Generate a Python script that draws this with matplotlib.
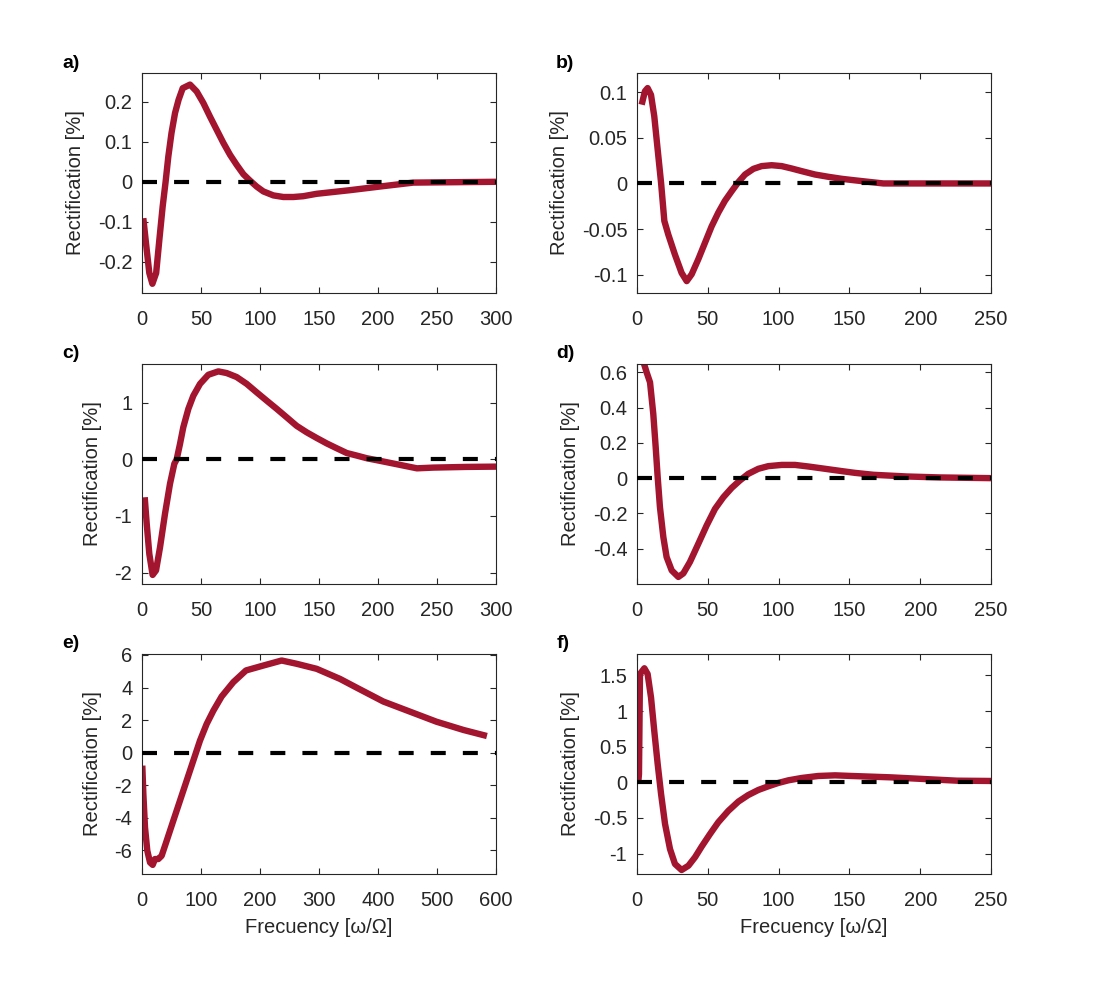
import matplotlib.pyplot as plt

plt.rcParams["font.family"] = ["Liberation Sans", "DejaVu Sans"]

# panel a
a_x = [1.1, 4, 6.2, 8.8, 12, 14.7, 17.5, 20, 22.3, 25, 28, 31, 34.5, 40.7, 46.3,
       52, 57.6, 63.3, 69, 74.6, 80.2, 85.9, 91.5, 97.2, 102.8, 111.3, 119.8,
       128.3, 136.7, 148, 176, 204, 230, 300]
a_y = [-0.091, -0.17, -0.228, -0.255, -0.228, -0.145, -0.062, 0, 0.063, 0.122,
       0.172, 0.205, 0.234, 0.243, 0.226, 0.197, 0.163, 0.13, 0.097, 0.0675,
       0.0425, 0.019, 0.003, -0.012, -0.024, -0.034, -0.038, -0.038, -0.036,
       -0.03, -0.021, -0.011, -0.002, 0]

# panel b
b_x = [3.3, 5.6, 7.5, 9.9, 12.2, 14.6, 17, 19.3, 22.1, 26.8, 31.5, 35.1, 38.6,
       43.3, 48, 52.7, 57.4, 62.1, 66.9, 71.6, 76.3, 82.2, 88, 95.1, 102.2,
       109.2, 116.3, 125.7, 135.1, 144.5, 152.8, 174, 250]
b_y = [0.0863, 0.101, 0.1045, 0.097, 0.0736, 0.037, 0.0007, -0.041, -0.056,
       -0.078, -0.098, -0.107, -0.0995, -0.083, -0.065, -0.047, -0.032, -0.019,
       -0.0084, 0.0015, 0.0098, 0.016, 0.019, 0.02, 0.019, 0.0164, 0.0135,
       0.0098, 0.0073, 0.0051, 0.0036, 0, 0]

# panel c
c_x = [2.3, 4, 6.2, 9, 11.9, 15.3, 19.5, 23.7, 27.4, 29.4, 32.2, 35, 39.3, 43.5,
       49.2, 56.2, 64.7, 71.8, 80.2, 88.7, 97.2, 105.6, 114.1, 122.6, 131, 139.5,
       148, 156.5, 165, 173.5, 182, 190.5, 204.6, 218.8, 233, 247, 275, 300]
c_y = [-0.67, -1.14, -1.67, -2.04, -1.96, -1.55, -0.96, -0.435, -0.08, 0, 0.27,
       0.565, 0.89, 1.12, 1.33, 1.49, 1.55, 1.52, 1.45, 1.33, 1.18, 1.035, 0.89,
       0.74, 0.59, 0.476, 0.376, 0.28, 0.194, 0.11, 0.065, 0.018, -0.04, -0.1,
       -0.16, -0.147, -0.135, -0.13]

# panel d
d_x = [4.5, 6.8, 9.2, 11.5, 13.2, 14.6, 16.2, 18.6, 20.9, 24.5, 29.2, 32.7, 37.4,
       43.3, 49.2, 55.1, 61, 66.9, 72.7, 78.6, 85.7, 92.7, 102.2, 111.6, 121,
       132.8, 144.5, 153.9, 167, 190.7, 214, 250]
d_y = [0.66, 0.6, 0.543, 0.364, 0.175, 0.006, -0.164, -0.334, -0.447, -0.523,
       -0.56, -0.54, -0.475, -0.372, -0.268, -0.174, -0.108, -0.055, -0.013,
       0.0245, 0.053, 0.068, 0.075, 0.075, 0.066, 0.053, 0.04, 0.03, 0.019,
       0.0094, 0.004, 0]

# panel e
e_x = [0.5, 2.3, 5.1, 9, 13.6, 18.1, 22, 27.7, 33.3, 41.8, 53.1, 64.4, 75.7, 87,
       98.3, 109.6, 121, 135, 154.8, 176.3, 205.6, 236.7, 262, 296, 335.6, 366,
       409, 454, 499, 545, 584.6]
e_y = [-0.8, -2.54, -4.6, -6.03, -6.75, -6.9, -6.54, -6.54, -6.34, -5.42, -4.18,
       -2.95, -1.72, -0.49, 0.74, 1.76, 2.58, 3.45, 4.33, 5.05, 5.35, 5.66, 5.46,
       5.15, 4.53, 3.95, 3.14, 2.52, 1.9, 1.39, 1.02]

# panel f
f_x = [0.9, 1.4, 2.1, 5.2, 7.5, 9.9, 12.2, 14.6, 17, 19.8, 23.3, 26.8, 31.5, 36.3,
       41, 45.7, 51.6, 57.4, 64.5, 71.6, 78.6, 85.7, 92.7, 99.8, 106.9, 116.3,
       128, 139.9, 151.6, 179, 202, 226, 250]
f_y = [0, 0.117, 1.52, 1.6, 1.52, 1.19, 0.72, 0.257, -0.164, -0.584, -0.935,
       -1.145, -1.23, -1.17, -1.05, -0.9, -0.724, -0.56, -0.4, -0.27, -0.178,
       -0.107, -0.056, -0.009, 0.028, 0.061, 0.089, 0.098, 0.089, 0.07, 0.047,
       0.023, 0.019]

panel_labels = ["a)", "b)", "c)", "d)", "e)", "f)"]
xlims = [(0, 300), (0, 250), (0, 300), (0, 250), (0, 600), (0, 250)]
ylims = [(-0.278, 0.272), (-0.12, 0.121), (-2.2, 1.68), (-0.6, 0.647),
         (-7.46, 6.06), (-1.286, 1.8)]
yticks = [[-0.2, -0.1, 0, 0.1, 0.2], [-0.1, -0.05, 0, 0.05, 0.1],
          [-2, -1, 0, 1], [-0.4, -0.2, 0, 0.2, 0.4, 0.6],
          [-6, -4, -2, 0, 2, 4, 6], [-1, -0.5, 0, 0.5, 1, 1.5]]
xticks = [list(range(0, 301, 50)), list(range(0, 251, 50)),
          list(range(0, 301, 50)), list(range(0, 251, 50)),
          list(range(0, 601, 100)), list(range(0, 251, 50))]

series = [(a_x, a_y), (b_x, b_y), (c_x, c_y), (d_x, d_y), (e_x, e_y), (f_x, f_y)]

W, H = 1093, 983
fig = plt.figure(figsize=(W / 100, H / 100), dpi=100)

lefts = [142, 637]
tops = [73, 364, 654]
aw, ah = 354, 220
label_pos = [(62, 63), (556, 63), (62, 353), (556, 353), (62, 643), (557, 643)]

red = "#A3142E"
dark = "#262626"
fs = 14.5

for i, (xs, ys) in enumerate(series):
    row, col = divmod(i, 2)
    ax = fig.add_axes([lefts[col] / W, 1 - (tops[row] + ah) / H, aw / W, ah / H])
    ax.plot(xs, ys, color=red, lw=4.6, solid_joinstyle="round",
            solid_capstyle="butt", zorder=2)
    ax.plot(xlims[i], [0, 0], color="black", lw=3, dashes=(3.6, 4.1), zorder=3)
    ax.set_xlim(*xlims[i])
    ax.set_ylim(*ylims[i])
    ax.set_xticks(xticks[i])
    ax.set_yticks(yticks[i])
    ax.set_yticklabels([f"{t:g}" for t in yticks[i]])
    ax.tick_params(direction="in", top=True, right=True, length=4, width=0.8,
                   labelsize=fs, colors=dark)
    ax.tick_params(axis="y", pad=7)
    ax.tick_params(axis="x", pad=12)
    for s in ax.spines.values():
        s.set_color(dark)
        s.set_linewidth(0.8)
    ax.set_ylabel("Rectification [%]", fontsize=fs, color=dark, labelpad=9)
    if row == 2:
        ax.set_xlabel("Frecuency [ω/Ω]", fontsize=fs, color=dark, labelpad=6)
    lx, ly = label_pos[i]
    fig.text(lx / W, 1 - ly / H, panel_labels[i], fontsize=14, fontweight="bold",
             ha="left", va="center")

fig.savefig("out.png", dpi=100, facecolor="white")
